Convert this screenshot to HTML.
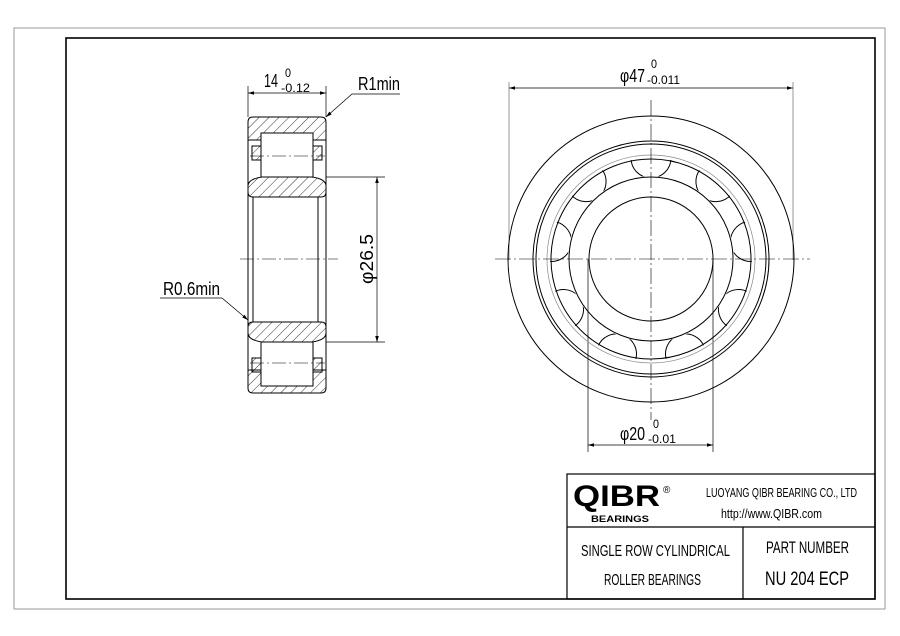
<!DOCTYPE html>
<html><head><meta charset="utf-8"><style>
html,body{margin:0;padding:0;background:#fff;width:900px;height:636px;overflow:hidden}
svg text{font-family:"Liberation Sans",sans-serif;fill:#000}
</style></head><body>
<svg width="900" height="636" viewBox="0 0 900 636" xmlns="http://www.w3.org/2000/svg">
<defs>
<pattern id="h" width="7" height="7" patternUnits="userSpaceOnUse" patternTransform="rotate(45)">
<line x1="0" y1="0" x2="0" y2="7" stroke="#000" stroke-width="0.8"/></pattern>
<marker id="a" viewBox="0 0 10 10" refX="10" refY="5" markerWidth="9" markerHeight="6" orient="auto-start-reverse" markerUnits="userSpaceOnUse"><path d="M0,2 L10,5 L0,8z" fill="#000"/></marker>
<clipPath id="ann"><path d="M651,158 a101,101 0 1 0 0.01,0z M651,176 a83,83 0 1 1 -0.01,0z" clip-rule="evenodd"/></clipPath>
</defs>
<rect x="14" y="28" width="871" height="581" fill="none" stroke="#999" stroke-width="1"/>
<rect x="66" y="38" width="809" height="561" fill="none" stroke="#000" stroke-width="1.6"/>

<g stroke="#000" stroke-width="1" fill="none">
<path d="M253,117 H321 Q326,117 326,122 V140 H313 V133 H261 V140 H248 V122 Q248,117 253,117z" fill="url(#h)"/>
<path d="M253,393 H321 Q326,393 326,388 V370 H313 V377 H261 V370 H248 V388 Q248,393 253,393z" fill="url(#h)"/>
<rect x="261" y="133" width="52" height="44" fill="#fff"/>
<rect x="261" y="342" width="52" height="44" fill="#fff"/>
<rect x="252" y="146" width="9" height="14" fill="url(#h)"/>
<rect x="313" y="146" width="9" height="14" fill="url(#h)"/>
<rect x="252" y="358" width="9" height="14" fill="url(#h)"/>
<rect x="313" y="358" width="9" height="14" fill="url(#h)"/>
<line x1="248" y1="140" x2="248" y2="370"/>
<line x1="326" y1="140" x2="326" y2="370"/>
<path d="M262,177 H312 Q326,179 326,186 V192 Q326,197 321,197 H253 Q248,197 248,192 V186 Q248,179 262,177z" fill="url(#h)"/>
<path d="M262,342 H312 Q326,340 326,333 V327 Q326,322 321,322 H253 Q248,322 248,327 V333 Q248,340 262,342z" fill="url(#h)"/>
<line x1="253" y1="197" x2="253" y2="322"/>
<line x1="318" y1="197" x2="318" y2="322"/>
</g>
<g stroke="#000" stroke-width="0.6" stroke-dasharray="14,3,2,3" fill="none">
<line x1="240" y1="259" x2="338" y2="259"/>
<line x1="250" y1="156" x2="325" y2="156"/>
<line x1="250" y1="363" x2="325" y2="363"/>
</g>
<g stroke="#000" stroke-width="0.7" fill="none">
<line x1="248" y1="86" x2="248" y2="117"/>
<line x1="326" y1="86" x2="326" y2="117"/>
<line x1="248" y1="93" x2="326" y2="93" marker-start="url(#a)" marker-end="url(#a)"/>
<line x1="326" y1="177" x2="385" y2="177"/>
<line x1="326" y1="342" x2="385" y2="342"/>
<line x1="377" y1="177" x2="377" y2="342" marker-start="url(#a)" marker-end="url(#a)"/>
<polyline points="400,94 352,94 326,117" marker-end="url(#a)"/>
<polyline points="160,298 222,298 248,320" marker-end="url(#a)"/>
</g>
<text x="264" y="87" font-size="18" textLength="14" lengthAdjust="spacingAndGlyphs">14</text>
<text x="285" y="77" font-size="12" textLength="6" lengthAdjust="spacingAndGlyphs">0</text>
<text x="281" y="92" font-size="12" textLength="29" lengthAdjust="spacingAndGlyphs">-0.12</text>
<text x="358" y="90" font-size="18" textLength="42" lengthAdjust="spacingAndGlyphs">R1min</text>
<text x="163" y="295" font-size="18" textLength="57" lengthAdjust="spacingAndGlyphs">R0.6min</text>
<text transform="translate(373,284) rotate(-90)" font-size="18" textLength="50" lengthAdjust="spacingAndGlyphs">φ26.5</text>

<g stroke="#999" stroke-width="1">
<line x1="509" y1="82" x2="509" y2="260"/>
<line x1="793" y1="82" x2="793" y2="260"/>
</g>
<g stroke="#000" stroke-width="0.7">
<line x1="588" y1="259" x2="588" y2="452"/>
<line x1="713" y1="259" x2="713" y2="452"/>
<line x1="509" y1="88" x2="793" y2="88" marker-start="url(#a)" marker-end="url(#a)"/>
<line x1="588" y1="445" x2="713" y2="445" marker-start="url(#a)" marker-end="url(#a)"/>
</g>
<g fill="none" stroke="#000" stroke-width="1">
<circle cx="651" cy="259" r="143"/>
<circle cx="651" cy="259" r="118"/>
<circle cx="651" cy="259" r="115"/>
<circle cx="651" cy="259" r="100"/>
<circle cx="651" cy="259" r="82"/>
<circle cx="651" cy="259" r="62"/>
<circle cx="651" cy="259" r="104" stroke="#888" stroke-width="0.7"/>
<g clip-path="url(#ann)">
<circle cx="651" cy="158" r="20"/>
<circle cx="651" cy="158" r="20" transform="rotate(40 651 259)"/>
<circle cx="651" cy="158" r="20" transform="rotate(80 651 259)"/>
<circle cx="651" cy="158" r="20" transform="rotate(120 651 259)"/>
<circle cx="651" cy="158" r="20" transform="rotate(160 651 259)"/>
<circle cx="651" cy="158" r="20" transform="rotate(200 651 259)"/>
<circle cx="651" cy="158" r="20" transform="rotate(240 651 259)"/>
<circle cx="651" cy="158" r="20" transform="rotate(280 651 259)"/>
<circle cx="651" cy="158" r="20" transform="rotate(320 651 259)"/>
</g>
</g>
<g stroke="#000" stroke-width="0.6" stroke-dasharray="16,3,2,3">
<line x1="495" y1="259" x2="810" y2="259"/>
<line x1="651" y1="100" x2="651" y2="420"/>
</g>
<text x="620" y="82" font-size="18" textLength="25" lengthAdjust="spacingAndGlyphs">φ47</text>
<text x="651" y="68" font-size="12" textLength="6" lengthAdjust="spacingAndGlyphs">0</text>
<text x="647" y="84" font-size="12" textLength="33" lengthAdjust="spacingAndGlyphs">-0.011</text>
<text x="620" y="440" font-size="18" textLength="25" lengthAdjust="spacingAndGlyphs">φ20</text>
<text x="653" y="428" font-size="12" textLength="6" lengthAdjust="spacingAndGlyphs">0</text>
<text x="648" y="443" font-size="12" textLength="28" lengthAdjust="spacingAndGlyphs">-0.01</text>

<g stroke="#000" stroke-width="1.2" fill="none">
<rect x="567" y="474" width="308" height="125"/>
<line x1="567" y1="527" x2="875" y2="527"/>
<line x1="743" y1="527" x2="743" y2="599"/>
</g>
<text x="573" y="506" font-size="30" font-weight="900" textLength="87" lengthAdjust="spacingAndGlyphs">QIBR</text>
<text x="663" y="493" font-size="10">®</text>
<text x="591" y="522" font-size="9" font-weight="bold" textLength="58" lengthAdjust="spacingAndGlyphs">BEARINGS</text>
<text x="706" y="497" font-size="13" textLength="151" lengthAdjust="spacingAndGlyphs">LUOYANG QIBR BEARING CO., LTD</text>
<text x="721" y="518" font-size="13" textLength="101" lengthAdjust="spacingAndGlyphs">http://www.QIBR.com</text>
<text x="581" y="556" font-size="16" textLength="149" lengthAdjust="spacingAndGlyphs">SINGLE ROW CYLINDRICAL</text>
<text x="604" y="585" font-size="16" textLength="97" lengthAdjust="spacingAndGlyphs">ROLLER BEARINGS</text>
<text x="766" y="553" font-size="17" textLength="83" lengthAdjust="spacingAndGlyphs">PART NUMBER</text>
<text x="765" y="585" font-size="19" textLength="84" lengthAdjust="spacingAndGlyphs">NU 204 ECP</text>
</svg>
</body></html>
